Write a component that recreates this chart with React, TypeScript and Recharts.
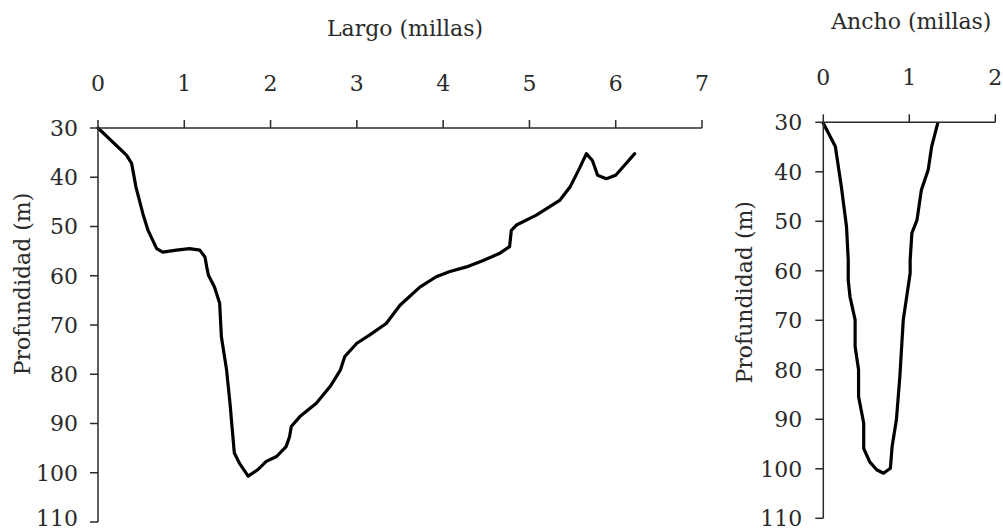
import { LineChart, Line, XAxis, YAxis } from 'recharts';

// Perfil longitudinal (largo) y transversal (ancho) del cauce
const largoMillas = [
  0, 0.33, 0.39, 0.44, 0.52, 0.58, 0.68, 0.75, 0.91, 1.06, 1.18, 1.24, 1.26, 1.28,
  1.35, 1.41, 1.43, 1.49, 1.53, 1.56, 1.58, 1.64, 1.74, 1.85, 1.95, 2.07, 2.18,
  2.22, 2.24, 2.34, 2.53, 2.69, 2.81, 2.86, 3.0, 3.15, 3.34, 3.5, 3.73, 3.92, 4.07,
  4.27, 4.45, 4.65, 4.77, 4.79, 4.85, 5.08, 5.35, 5.47, 5.58, 5.66, 5.73, 5.79,
  5.89, 6.0, 6.12, 6.22,
];
const largoProf = [
  30, 35.5, 37.2, 42, 47.4, 50.8, 54.5, 55.2, 54.8, 54.5, 54.8, 56.2, 58.2, 59.9,
  62.3, 65.6, 72.4, 79.1, 85.9, 92, 96, 98.1, 100.7, 99.4, 97.7, 96.7, 94.7,
  92.7, 90.6, 88.6, 85.9, 82.5, 79.1, 76.4, 73.7, 72, 69.7, 66, 62.3, 60.2, 59.2,
  58.2, 57, 55.5, 54.1, 50.8, 49.7, 47.7, 44.7, 42, 38.2, 35.2, 36.6, 39.6,
  40.3, 39.6, 37.2, 35.2,
];

const anchoMillas = [
  0, 0.14, 0.21, 0.27, 0.29, 0.29, 0.31, 0.37, 0.37, 0.41, 0.41, 0.47, 0.47, 0.54,
  0.62, 0.7, 0.78, 0.8, 0.85, 0.89, 0.93, 0.97, 1.01, 1.01, 1.03, 1.09, 1.14,
  1.22, 1.26, 1.33,
];
const anchoProf = [
  30.2, 34.9, 43, 51.1, 57.8, 61.9, 65.2, 69.9, 75.3, 80, 85.4, 90.8, 95.9, 98.6,
  100.2, 100.9, 99.9, 95.5, 90.1, 81.4, 69.9, 65.2, 60.5, 57.8, 52.4, 49.7, 43.7,
  39.6, 34.9, 30.2,
];

const largoTicks = [0, 1, 2, 3, 4, 5, 6, 7];
const anchoTicks = [0, 1, 2];
const profTicks = [30, 40, 50, 60, 70, 80, 90, 100, 110];

const largoData = largoMillas.map((x, i) => ({ x, prof: largoProf[i] }));
const anchoData = anchoMillas.map((x, i) => ({ x, prof: anchoProf[i] }));

const FONT = 'DejaVu Serif';
const INK = '#2a2a2a';
const tickStyle = { fontSize: 22, fill: INK, fontFamily: FONT };

export default function App() {
  return (
    <div style={{ position: 'absolute', left: 0, top: 0, width: 1003, height: 531, background: '#fff', fontFamily: FONT }}>
      <div style={{ position: 'absolute', left: 0, top: 0 }}>
        <LineChart width={740} height={531} data={largoData} margin={{ top: 0, right: 38, bottom: 9, left: 0 }}>
          <XAxis
            dataKey="x"
            type="number"
            orientation="top"
            domain={[0, 7]}
            ticks={largoTicks}
            height={128}
            tickSize={8}
            tickMargin={29}
            stroke={INK}
            strokeWidth={1.5}
            tick={tickStyle}
            label={{ value: 'Largo (millas)', position: 'center', dx: 5, dy: -36, fontSize: 22, fill: INK, fontFamily: FONT }}
          />
          <YAxis
            type="number"
            reversed
            domain={[30, 110]}
            ticks={profTicks}
            width={98}
            tickSize={8}
            tickMargin={12}
            stroke={INK}
            strokeWidth={1.5}
            tick={tickStyle}
            label={{ value: 'Profundidad (m)', angle: -90, position: 'center', dx: -27, dy: -41, fontSize: 22, fill: INK, fontFamily: FONT }}
          />
          <Line type="linear" dataKey="prof" stroke="#000" strokeWidth={3.2} strokeLinejoin="round" strokeLinecap="round" dot={false} isAnimationActive={false} />
        </LineChart>
      </div>
      <div style={{ position: 'absolute', left: 730, top: 0 }}>
        <LineChart width={273} height={531} data={anchoData} margin={{ top: 0, right: 7.7, bottom: 12.7, left: 0 }}>
          <XAxis
            dataKey="x"
            type="number"
            orientation="top"
            domain={[0, 2]}
            ticks={anchoTicks}
            height={122.3}
            tickSize={8}
            tickMargin={29}
            stroke={INK}
            strokeWidth={1.5}
            tick={tickStyle}
            label={{ value: 'Ancho (millas)', position: 'center', dx: 2, dy: -40, fontSize: 22, fill: INK, fontFamily: FONT }}
          />
          <YAxis
            type="number"
            reversed
            domain={[30, 110]}
            ticks={profTicks}
            width={93.3}
            tickSize={8}
            tickMargin={13}
            stroke={INK}
            strokeWidth={1.5}
            tick={tickStyle}
            label={{ value: 'Profundidad (m)', angle: -90, position: 'center', dx: -32, dy: -28, fontSize: 22, fill: INK, fontFamily: FONT }}
          />
          <Line type="linear" dataKey="prof" stroke="#000" strokeWidth={3.2} strokeLinejoin="round" strokeLinecap="round" dot={false} isAnimationActive={false} />
        </LineChart>
      </div>
    </div>
  );
}
